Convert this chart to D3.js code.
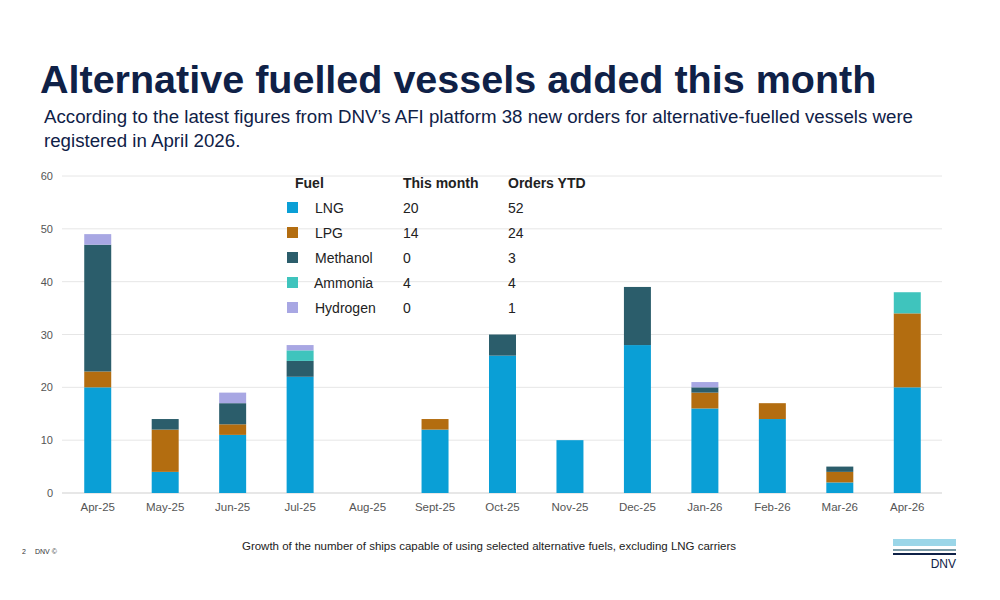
<!DOCTYPE html>
<html>
<head>
<meta charset="utf-8">
<script src="https://cdn.jsdelivr.net/npm/d3@7"></script>
<style>
  body { margin: 0; background: #fff; font-family: "Liberation Sans", Arial, sans-serif; }
</style>
</head>
<body>
<svg id="chart" width="1000" height="600"></svg>
<script>
const months = ["Apr-25","May-25","Jun-25","Jul-25","Aug-25","Sept-25","Oct-25","Nov-25","Dec-25","Jan-26","Feb-26","Mar-26","Apr-26"];
const fuels = ["LNG","LPG","Methanol","Ammonia","Hydrogen"];
const lng      = [20, 4, 11, 22, 0, 12, 26, 10, 28, 16, 14, 2, 20];
const lpg      = [3, 8, 2, 0, 0, 2, 0, 0, 0, 3, 3, 2, 14];
const methanol = [24, 2, 4, 3, 0, 0, 4, 0, 11, 1, 0, 1, 0];
const ammonia  = [0, 0, 0, 2, 0, 0, 0, 0, 0, 0, 0, 0, 4];
const hydrogen = [2, 0, 2, 1, 0, 0, 0, 0, 0, 1, 0, 0, 0];
const thisMonth = [20, 14, 0, 4, 0];
const ordersYTD = [52, 24, 3, 4, 1];
const yTicks = [0, 10, 20, 30, 40, 50, 60];
const colors = ["#0a9fd6", "#b36d10", "#2b5d6b", "#3fc4bd", "#a8a7e3"];

const svg = d3.select("#chart");

// titles
svg.append("text").attr("x", 40).attr("y", 93)
  .attr("font-size", 39.5).attr("font-weight", "bold").attr("fill", "#0f2147")
  .text("Alternative fuelled vessels added this month");
svg.append("text").attr("x", 44).attr("y", 123)
  .attr("font-size", 18.7).attr("fill", "#0f2147")
  .text("According to the latest figures from DNV\u2019s AFI platform 38 new orders for alternative-fuelled vessels were");
svg.append("text").attr("x", 44).attr("y", 147)
  .attr("font-size", 18.7).attr("fill", "#0f2147")
  .text("registered in April 2026.");

const rows = months.map((m, i) => ({
  month: m, LNG: lng[i], LPG: lpg[i], Methanol: methanol[i], Ammonia: ammonia[i], Hydrogen: hydrogen[i]
}));
const stacked = d3.stack().keys(fuels)(rows);

const x = d3.scaleBand().domain(months).range([64, 941]).paddingInner(0.6).paddingOuter(0.3);
const y = d3.scaleLinear().domain([0, 60]).range([493, 176]);

// grid
svg.append("g").selectAll("line").data(yTicks).enter().append("line")
  .attr("x1", 62).attr("x2", 942)
  .attr("y1", d => y(d)).attr("y2", d => y(d))
  .attr("stroke", d => d === 0 ? "#cfcfcf" : "#e6e6e6");

const yAxis = svg.append("g").attr("transform", "translate(56,0)")
  .call(d3.axisLeft(y).tickValues(yTicks).tickSize(0));
yAxis.select(".domain").remove();
yAxis.selectAll("text").attr("font-size", 11).attr("fill", "#555").attr("font-family", "Liberation Sans, Arial");

const xAxis = svg.append("g").attr("transform", "translate(0,500)")
  .call(d3.axisBottom(x).tickSize(0));
xAxis.select(".domain").remove();
xAxis.selectAll("text").attr("font-size", 11.5).attr("fill", "#555").attr("font-family", "Liberation Sans, Arial");

// bars
svg.append("g").selectAll("g").data(stacked).enter().append("g")
  .attr("fill", (d, i) => colors[i])
  .selectAll("rect").data(d => d).enter().append("rect")
  .attr("x", d => x(d.data.month))
  .attr("width", x.bandwidth())
  .attr("y", d => y(d[1]))
  .attr("height", d => y(d[0]) - y(d[1]));

// legend table
const lg = svg.append("g").attr("font-size", 14).attr("fill", "#222");
lg.append("text").attr("x", 295).attr("y", 188).attr("font-weight", "bold").text("Fuel");
lg.append("text").attr("x", 403).attr("y", 188).attr("font-weight", "bold").text("This month");
lg.append("text").attr("x", 508).attr("y", 188).attr("font-weight", "bold").text("Orders YTD");
fuels.forEach((f, i) => {
  const yy = 213 + i * 25;
  lg.append("rect").attr("x", 287).attr("y", yy - 11).attr("width", 11).attr("height", 11).attr("fill", colors[i]);
  lg.append("text").attr("x", i === 3 ? 314 : 315).attr("y", yy).text(f);
  lg.append("text").attr("x", 403).attr("y", yy).text(thisMonth[i]);
  lg.append("text").attr("x", 508).attr("y", yy).text(ordersYTD[i]);
});

// footer
svg.append("text").attr("x", 22).attr("y", 554).attr("font-size", 7).attr("fill", "#333").text("2");
svg.append("text").attr("x", 35).attr("y", 554).attr("font-size", 7).attr("fill", "#333").text("DNV \u00a9");
svg.append("text").attr("x", 489).attr("y", 550).attr("text-anchor", "middle")
  .attr("font-size", 11.5).attr("fill", "#222")
  .text("Growth of the number of ships capable of using selected alternative fuels, excluding LNG carriers");
svg.append("rect").attr("x", 893).attr("y", 539).attr("width", 63).attr("height", 7).attr("fill", "#9bd6e8");
svg.append("rect").attr("x", 893).attr("y", 549).attr("width", 63).attr("height", 2).attr("fill", "#7a9aa6");
svg.append("rect").attr("x", 893).attr("y", 553).attr("width", 63).attr("height", 2).attr("fill", "#0f2147");
svg.append("text").attr("x", 956).attr("y", 568).attr("text-anchor", "end")
  .attr("font-size", 12).attr("fill", "#0f2147").text("DNV");
</script>
</body>
</html>
